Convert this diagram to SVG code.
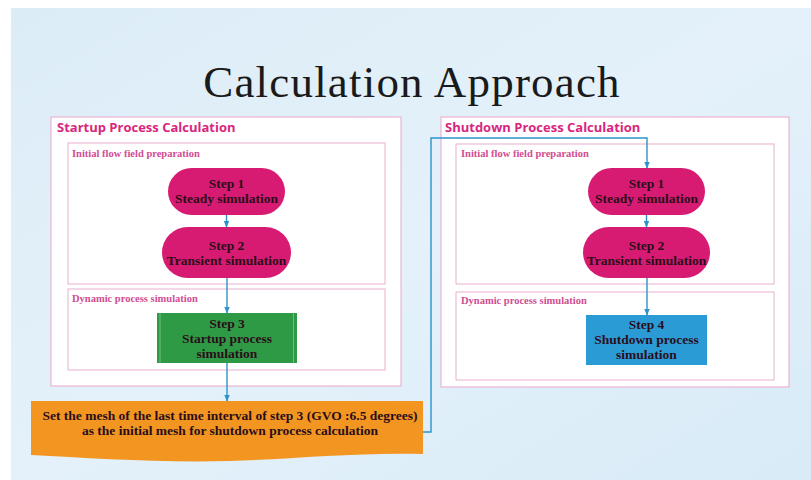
<svg xmlns="http://www.w3.org/2000/svg" width="811" height="480" viewBox="0 0 811 480">
<defs>
<linearGradient id="bg" x1="0" y1="0" x2="1" y2="1">
<stop offset="0" stop-color="#dcecf6"/>
<stop offset="0.5" stop-color="#e4f1fa"/>
<stop offset="1" stop-color="#d8ebf7"/>
</linearGradient>
<marker id="arr" viewBox="0 0 10 10" refX="9" refY="5" markerWidth="5" markerHeight="5" orient="auto-start-reverse">
<path d="M0,1 L10,5 L0,9 z" fill="#2c93c9"/>
</marker>
<style>
.outer{fill:#ffffff;stroke:#ecb4d2;stroke-width:1.2}
.inner{fill:#ffffff;stroke:#eab0cf;stroke-width:1}
.h1{font-family:"Open Sans","Liberation Sans",sans-serif;font-weight:bold;font-size:13px;fill:#d8267e}
.h2{font-family:"Liberation Serif",serif;font-weight:bold;font-size:10.5px;fill:#d14d93}
.pill{fill:#d81b72}
.t{font-family:"Liberation Serif",serif;font-weight:bold;font-size:13.5px;fill:#2a0d1a;text-anchor:middle}
.c{fill:none;stroke:#2c93c9;stroke-width:1.4}
</style>
</defs>
<rect x="0" y="0" width="811" height="480" fill="#ffffff"/>
<rect x="11" y="8" width="800" height="472" fill="url(#bg)"/>
<text x="412" y="97" font-family="Liberation Serif, serif" font-size="45" letter-spacing="1.2" text-anchor="middle" fill="#1a1a1a">Calculation Approach</text>

<g id="startup">
<rect class="outer" x="51" y="117" width="350" height="269"/>
<text class="h1" x="57" y="132">Startup Process Calculation</text>
</g>
<g id="startup-init">
<rect class="inner" x="68" y="143" width="317" height="141"/>
<text class="h2" x="72" y="157">Initial flow field preparation</text>
</g>
<g id="startup-dyn">
<rect class="inner" x="68" y="289" width="317" height="81"/>
<text class="h2" x="72" y="302">Dynamic process simulation</text>
</g>
<g id="s-step1">
<rect class="pill" x="168" y="168" width="117" height="47" rx="23.5"/>
<text class="t" x="226.5" y="188">Step 1</text>
<text class="t" x="226.5" y="203">Steady simulation</text>
</g>
<g id="s-step2">
<rect class="pill" x="162" y="227" width="129" height="51" rx="25.5"/>
<text class="t" x="226.5" y="250">Step 2</text>
<text class="t" x="226.5" y="265">Transient simulation</text>
</g>
<g id="s-step3">
<rect x="157" y="313" width="140" height="50" fill="#2f9a45"/>
<line x1="160" y1="313" x2="160" y2="363" stroke="#6cc07c" stroke-width="1"/>
<line x1="293.5" y1="313" x2="293.5" y2="363" stroke="#6cc07c" stroke-width="1"/>
<text class="t" x="227" y="328">Step 3</text>
<text class="t" x="227" y="343">Startup process</text>
<text class="t" x="227" y="358">simulation</text>
</g>
<g id="note">
<path d="M31,401 L423,401 L423,454 C360,452 290,459 230,461 C160,463 90,458 31,455 Z" fill="#f29621"/>
<text class="t" x="230" y="420" fill="#3a1a05">Set the mesh of the last time interval of step 3 (GVO :6.5 degrees)</text>
<text class="t" x="230" y="435">as the initial mesh for shutdown process calculation</text>
</g>

<g id="shutdown">
<rect class="outer" x="441" y="117" width="348" height="270"/>
<text class="h1" x="445" y="132">Shutdown Process Calculation</text>
</g>
<g id="shutdown-init">
<rect class="inner" x="456" y="144" width="318" height="140"/>
<text class="h2" x="461" y="157">Initial flow field preparation</text>
</g>
<g id="shutdown-dyn">
<rect class="inner" x="456" y="292" width="318" height="88"/>
<text class="h2" x="461" y="304">Dynamic process simulation</text>
</g>
<g id="d-step1">
<rect class="pill" x="588" y="168" width="117" height="47" rx="23.5"/>
<text class="t" x="646.5" y="188">Step 1</text>
<text class="t" x="646.5" y="203">Steady simulation</text>
</g>
<g id="d-step2">
<rect class="pill" x="583" y="227" width="127" height="51" rx="25.5"/>
<text class="t" x="646.5" y="250">Step 2</text>
<text class="t" x="646.5" y="265">Transient simulation</text>
</g>
<g id="d-step4">
<rect x="586" y="315" width="121" height="50" fill="#2b9bd6"/>
<text class="t" x="646.5" y="329">Step 4</text>
<text class="t" x="646.5" y="344">Shutdown process</text>
<text class="t" x="646.5" y="359">simulation</text>
</g>

<g id="connectors">
<line class="c" x1="226.5" y1="215" x2="226.5" y2="227" marker-end="url(#arr)"/>
<line class="c" x1="227" y1="278" x2="227" y2="313" marker-end="url(#arr)"/>
<line class="c" x1="227" y1="363" x2="227" y2="401" marker-end="url(#arr)"/>
<polyline class="c" points="423,432 431,432 431,138 647,138 647,168" marker-end="url(#arr)"/>
<line class="c" x1="646.5" y1="215" x2="646.5" y2="227" marker-end="url(#arr)"/>
<line class="c" x1="647" y1="278" x2="647" y2="315" marker-end="url(#arr)"/>
</g>
</svg>
